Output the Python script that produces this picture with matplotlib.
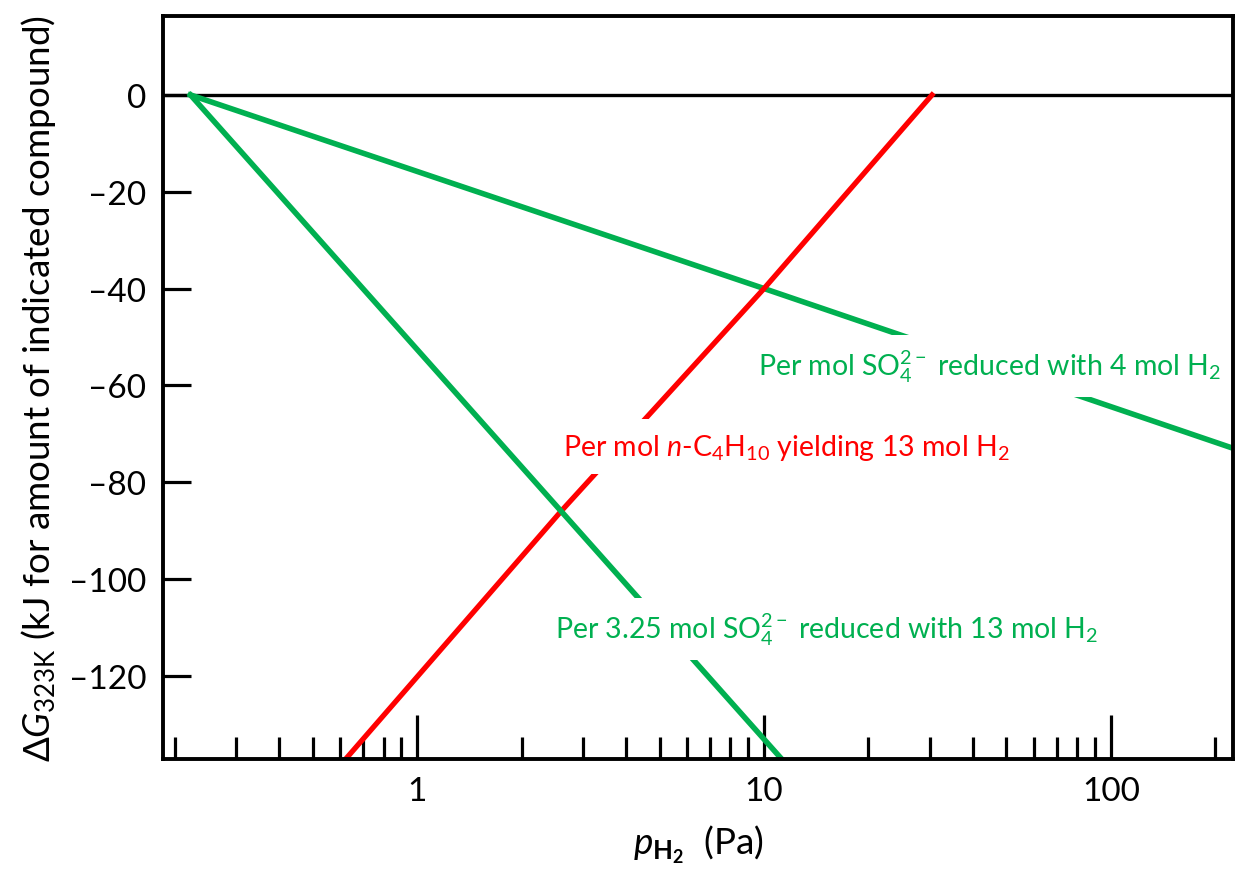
import numpy as np
import matplotlib
matplotlib.use("Agg")
import matplotlib.pyplot as plt
from matplotlib.ticker import LogLocator, FixedLocator, NullFormatter

plt.rcParams['font.family'] = ['Lato', 'DejaVu Sans']
plt.rcParams['mathtext.fontset'] = 'custom'
plt.rcParams['mathtext.rm'] = 'Lato'
plt.rcParams['mathtext.it'] = 'Lato:italic'
plt.rcParams['mathtext.bf'] = 'Lato:bold'

GREEN = '#00b050'
RED = '#ff0000'

# values (p in Pa, dG in kJ)
p_so4_4h2 = [0.222, 10, 225]
dg_so4_4h2 = [0, -40, -73]

p_c4h10 = [0.6, 2.6, 10, 30.5]
dg_c4h10 = [-138.5, -86, -40, 0]

p_so4_13h2 = [0.222, 2.6, 11.5]
dg_so4_13h2 = [0, -86, -138]

yticks = [0, -20, -40, -60, -80, -100, -120]
xticks = [1, 10, 100]
xticklabels = ['1', '10', '100']

fig = plt.figure(figsize=(12.35, 8.78), dpi=100)
ax = fig.add_axes([0.132, 0.1344, 0.8664, 0.8462])

ax.axhline(0, color='black', lw=2.4, zorder=1)
ax.plot(p_so4_4h2, dg_so4_4h2, color=GREEN, lw=4.0, zorder=2)
ax.plot(p_c4h10, dg_c4h10, color=RED, lw=3.8, zorder=2)
ax.plot(p_so4_13h2, dg_so4_13h2, color=GREEN, lw=4.0, zorder=2)

ax.set_xscale('log')
ax.set_xlim(0.185, 225)
ax.set_ylim(-137.2, 16.3)

ax.xaxis.set_major_locator(FixedLocator(xticks))
ax.set_xticklabels(xticklabels)
ax.xaxis.set_minor_locator(LogLocator(base=10, subs=np.arange(2, 10)))
ax.xaxis.set_minor_formatter(NullFormatter())
ax.set_yticks(yticks)
ax.set_yticklabels(['0' if v == 0 else '\u2013%d' % -v for v in yticks])

ax.tick_params(axis='x', which='major', direction='in', length=32, width=2.3,
               labelsize=24, pad=12, top=False)
ax.tick_params(axis='x', which='minor', direction='in', length=16, width=2.3, top=False)
ax.tick_params(axis='y', which='major', direction='in', length=20, width=2.3,
               labelsize=24, pad=12, right=False)
for s in ax.spines.values():
    s.set_linewidth(2.8)
    s.set_zorder(5)

ax.set_xlabel(r'$\mathit{p}_{\mathbf{H}_{\mathbf{2}}}$  (Pa)', fontsize=26.5, labelpad=12)
ax.set_ylabel(r'$\Delta \mathit{G}_{\mathrm{323K}}$ (kJ for amount of indicated compound)',
              fontsize=26.5, labelpad=8)

box = dict(facecolor='white', edgecolor='none', pad=9)
ax.text(9.6, -56, r'Per mol SO$_4^{2-}$ reduced with 4 mol H$_2$', color=GREEN,
        fontsize=20.5, ha='left', va='center', bbox=box, zorder=3)
ax.text(2.64, -72.7, r'Per mol $\mathit{n}$-C$_4$H$_{10}$ yielding 13 mol H$_2$', color=RED,
        fontsize=20.5, ha='left', va='center', bbox=box, zorder=3)
ax.text(2.5, -110.3, r'Per 3.25 mol SO$_4^{2-}$ reduced with 13 mol H$_2$', color=GREEN,
        fontsize=20.5, ha='left', va='center', bbox=box, zorder=3)

fig.savefig('out.png', dpi=100)
